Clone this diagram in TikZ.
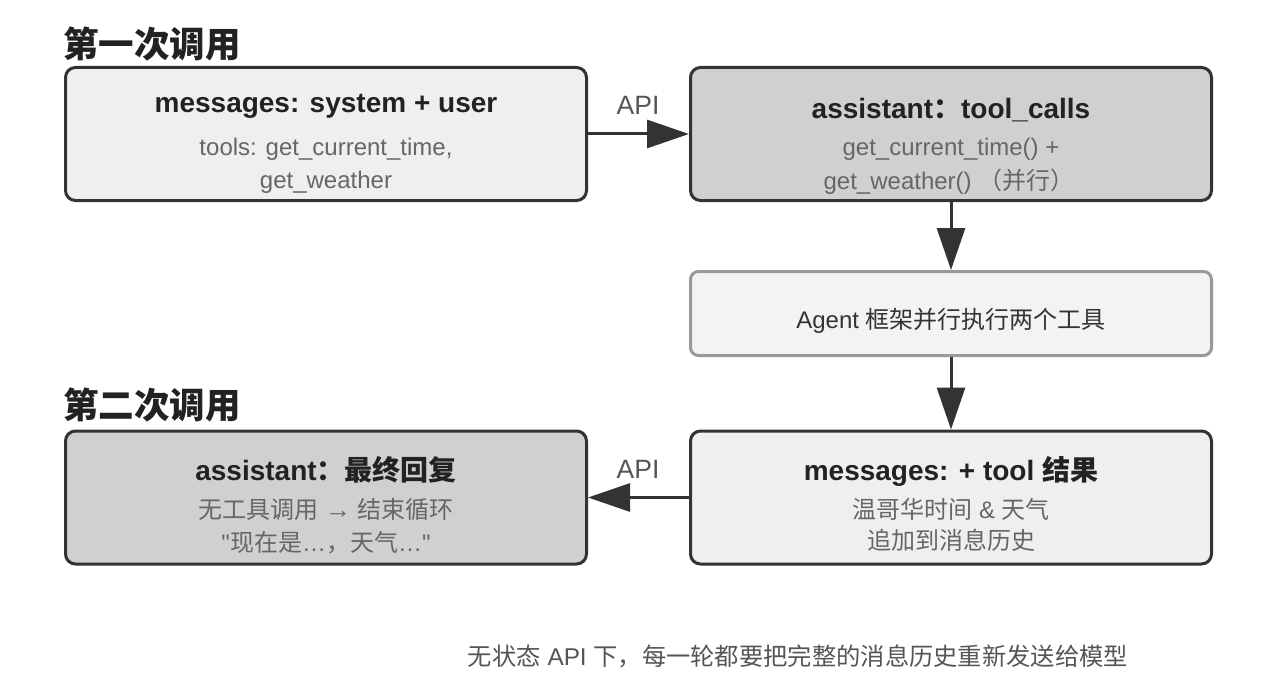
\documentclass[tikz,border=0pt]{standalone}
\usepackage{fontspec}
\setmainfont{Liberation Sans}
\newfontfamily\rawlib{Liberation Sans}
\newfontfamily\cjk{Noto Sans CJK SC}
\usetikzlibrary{arrows.meta}
\definecolor{edgec}{HTML}{333333}
\definecolor{lightfill}{HTML}{EFEFEF}
\definecolor{darkfill}{HTML}{D0D0D0}
\definecolor{agentfill}{HTML}{F3F3F3}
\definecolor{agentedge}{HTML}{999999}
\definecolor{titletext}{HTML}{222222}
\definecolor{subtext}{HTML}{666666}
\definecolor{notetext}{HTML}{555555}
\begin{document}
\begin{tikzpicture}[x=1pt,y=-1pt,
  box/.style={draw=edgec, line width=3pt, rounded corners=10pt, minimum width=521pt, minimum height=133pt, inner sep=0pt},
  agentbox/.style={draw=agentedge, line width=3pt, rounded corners=8pt, minimum width=521pt, minimum height=84pt, inner sep=0pt, fill=agentfill},
  txt/.style={inner sep=0pt, text height=17pt, text depth=0pt, anchor=center},
  headtxt/.style={txt, text=titletext, font=\fontsize{28}{32}\selectfont\bfseries},
  subtxt/.style={txt, text=subtext, font=\fontsize{24}{28}\selectfont},
  sectiontxt/.style={inner sep=0pt, text height=25pt, text depth=0pt, anchor=west, text=titletext, font=\fontsize{35.5}{40}\selectfont\bfseries},
  arr/.style={draw=edgec, line width=3pt, -{Triangle[length=42pt,width=28pt]}},
  apitxt/.style={txt, text=notetext, font=\fontsize{26.5}{30}\selectfont}
]
\useasboundingbox (0,0) rectangle (1288,698);

% section headings
\node[sectiontxt] (h1) at (63,45) {\cjk 第一次调用};
\node[sectiontxt] (h2) at (63,406) {\cjk 第二次调用};

% boxes
\node[box, fill=lightfill] (A) at (326,134) {};
\node[box, fill=darkfill] (B) at (951,134) {};
\node[agentbox] (C) at (951,313.5) {};
\node[box, fill=lightfill] (D) at (951,497.5) {};
\node[box, fill=darkfill] (E) at (326,497.5) {};

% box A text
\node[headtxt] (a1) at (326,104) {messages: system + user};
\node[subtxt] (a2) at (326,147) {tools: get\_current\_time,};
\node[subtxt] (a3) at (326,180) {get\_weather};

% box B text
\node[headtxt] (b1) at (951,110) {assistant{\cjk ：}tool\_calls};
\node[subtxt] (b2) at (951,147) {get\_current\_time() +};
\node[subtxt] (b3) at (949,181) {get\_weather() {\cjk （并行）}};

% box C text
\node[txt, text=edgec, font=\fontsize{24}{28}\selectfont] (c1) at (951,320) {Agent {\cjk 框架并行执行两个工具}};

% box D text
\node[headtxt] (d1) at (951,472) {messages: + tool {\cjk 结果}};
\node[subtxt] (d2) at (951,510) {{\cjk 温哥华时间} \& {\cjk 天气}};
\node[subtxt] (d3) at (951,541) {\cjk 追加到消息历史};

% box E text
\node[headtxt] (e1) at (326,472) {assistant{\cjk ：最终回复}};
\node[subtxt] (e2) at (326,510) {{\cjk 无工具调用} {\fontsize{26}{28}\selectfont →} {\cjk 结束循环}};
\node[subtxt] (e3) at (326,543) {{\rawlib "}{\cjk 现在是}…{\cjk ，天气}…{\rawlib "}};

% arrows
\draw[arr] (A.east) -- (B.west);
\draw[arr] (B.south) -- (C.north);
\draw[arr] (C.south) -- (D.north);
\draw[arr] (D.west) -- (E.east);

\node[apitxt] (api1) at (638,106) {API};
\node[apitxt] (api2) at (638,470) {API};

% footer
\node[txt, text=notetext, font=\fontsize{24.3}{28}\selectfont] (foot) at (798,657) {{\cjk 无状态} API {\cjk 下，每一轮都要把完整的消息历史重新发送给模型}};
\end{tikzpicture}
\end{document}
